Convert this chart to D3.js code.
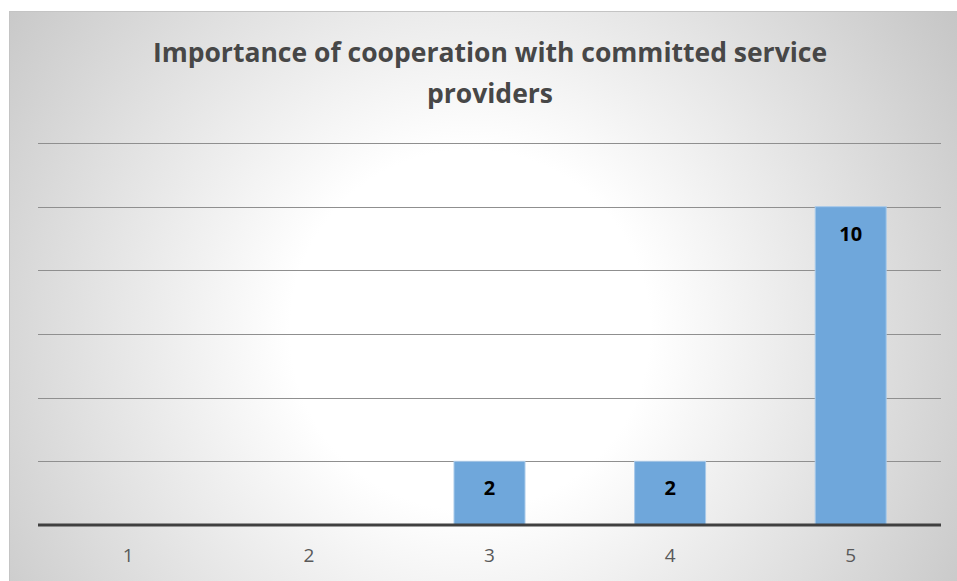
<!DOCTYPE html>
<html>
<head>
<meta charset="utf-8">
<script src="https://cdn.jsdelivr.net/npm/d3@7/dist/d3.min.js"></script>
<style>
  html, body { margin: 0; padding: 0; background: #fff; }
  svg { display: block; }
</style>
</head>
<body>
<script>
// Survey answers: rating (1–5) and number of respondents
const categories = ["1", "2", "3", "4", "5"];
const counts = [0, 0, 2, 2, 10];
const yTicks = [0, 2, 4, 6, 8, 10, 12];
const titleLines = ["Importance of cooperation with committed service", "providers"];

const W = 957, H = 581;
const svg = d3.select("body").append("svg").attr("width", W).attr("height", H);

// soft radial background of the chart area
const defs = svg.append("defs");
const grad = defs.append("radialGradient")
  .attr("id", "bg").attr("gradientUnits", "userSpaceOnUse")
  .attr("cx", 470).attr("cy", 330).attr("r", 600);
grad.append("stop").attr("offset", 0).attr("stop-color", "#ffffff");
grad.append("stop").attr("offset", 0.3).attr("stop-color", "#ffffff");
grad.append("stop").attr("offset", 1).attr("stop-color", "#c3c3c3");

svg.append("rect").attr("x", 9.5).attr("y", 11.5).attr("width", W).attr("height", H)
  .attr("fill", "url(#bg)").attr("stroke", "#c4c4c4").attr("stroke-width", 1);

const x = d3.scaleBand().domain(categories).range([38, 941])
  .paddingInner(0.607).paddingOuter(0.3035);
const y = d3.scaleLinear().domain([0, 12]).range([525, 143]);

// horizontal gridlines
svg.append("g").selectAll("line").data(yTicks.filter(d => d > 0)).join("line")
  .attr("x1", 38).attr("x2", 941)
  .attr("y1", d => Math.round(y(d)) + 0.5).attr("y2", d => Math.round(y(d)) + 0.5)
  .attr("stroke", "#8f8f8f").attr("stroke-width", 1);

const barData = counts.map((v, i) => ({ c: categories[i], v })).filter(d => d.v > 0);

// bars
svg.append("g").selectAll("rect").data(barData).join("rect")
  .attr("x", d => x(d.c)).attr("width", x.bandwidth())
  .attr("y", d => y(d.v)).attr("height", d => y(0) - y(d.v))
  .attr("fill", "#6fa7db").attr("stroke", "#a8caea").attr("stroke-width", 1);

// value labels inside the top of each bar
svg.append("g").selectAll("text").data(barData).join("text")
  .attr("x", d => x(d.c) + x.bandwidth() / 2)
  .attr("y", d => y(d.v) + 34)
  .attr("text-anchor", "middle")
  .attr("font-family", "'Open Sans', sans-serif").attr("font-weight", "bold")
  .attr("font-size", 20).attr("fill", "#000")
  .text(d => d.v);

// category axis
const xAxis = svg.append("g").attr("transform", "translate(0,525)")
  .call(d3.axisBottom(x).tickSize(0).tickPadding(24));
xAxis.select(".domain").remove();
xAxis.selectAll("text")
  .attr("font-family", "'Open Sans', sans-serif").attr("font-size", 19)
  .attr("fill", "#595959");
svg.append("line").attr("x1", 38).attr("x2", 941).attr("y1", 525).attr("y2", 525)
  .attr("stroke", "#404040").attr("stroke-width", 3);

// title
svg.append("g").selectAll("text").data(titleLines).join("text")
  .attr("x", 490).attr("y", (d, i) => 62 + i * 40.5)
  .attr("text-anchor", "middle")
  .attr("font-family", "'Open Sans', sans-serif").attr("font-weight", "bold")
  .attr("font-size", 26.5).attr("fill", "#474747")
  .text(d => d);
</script>
</body>
</html>
